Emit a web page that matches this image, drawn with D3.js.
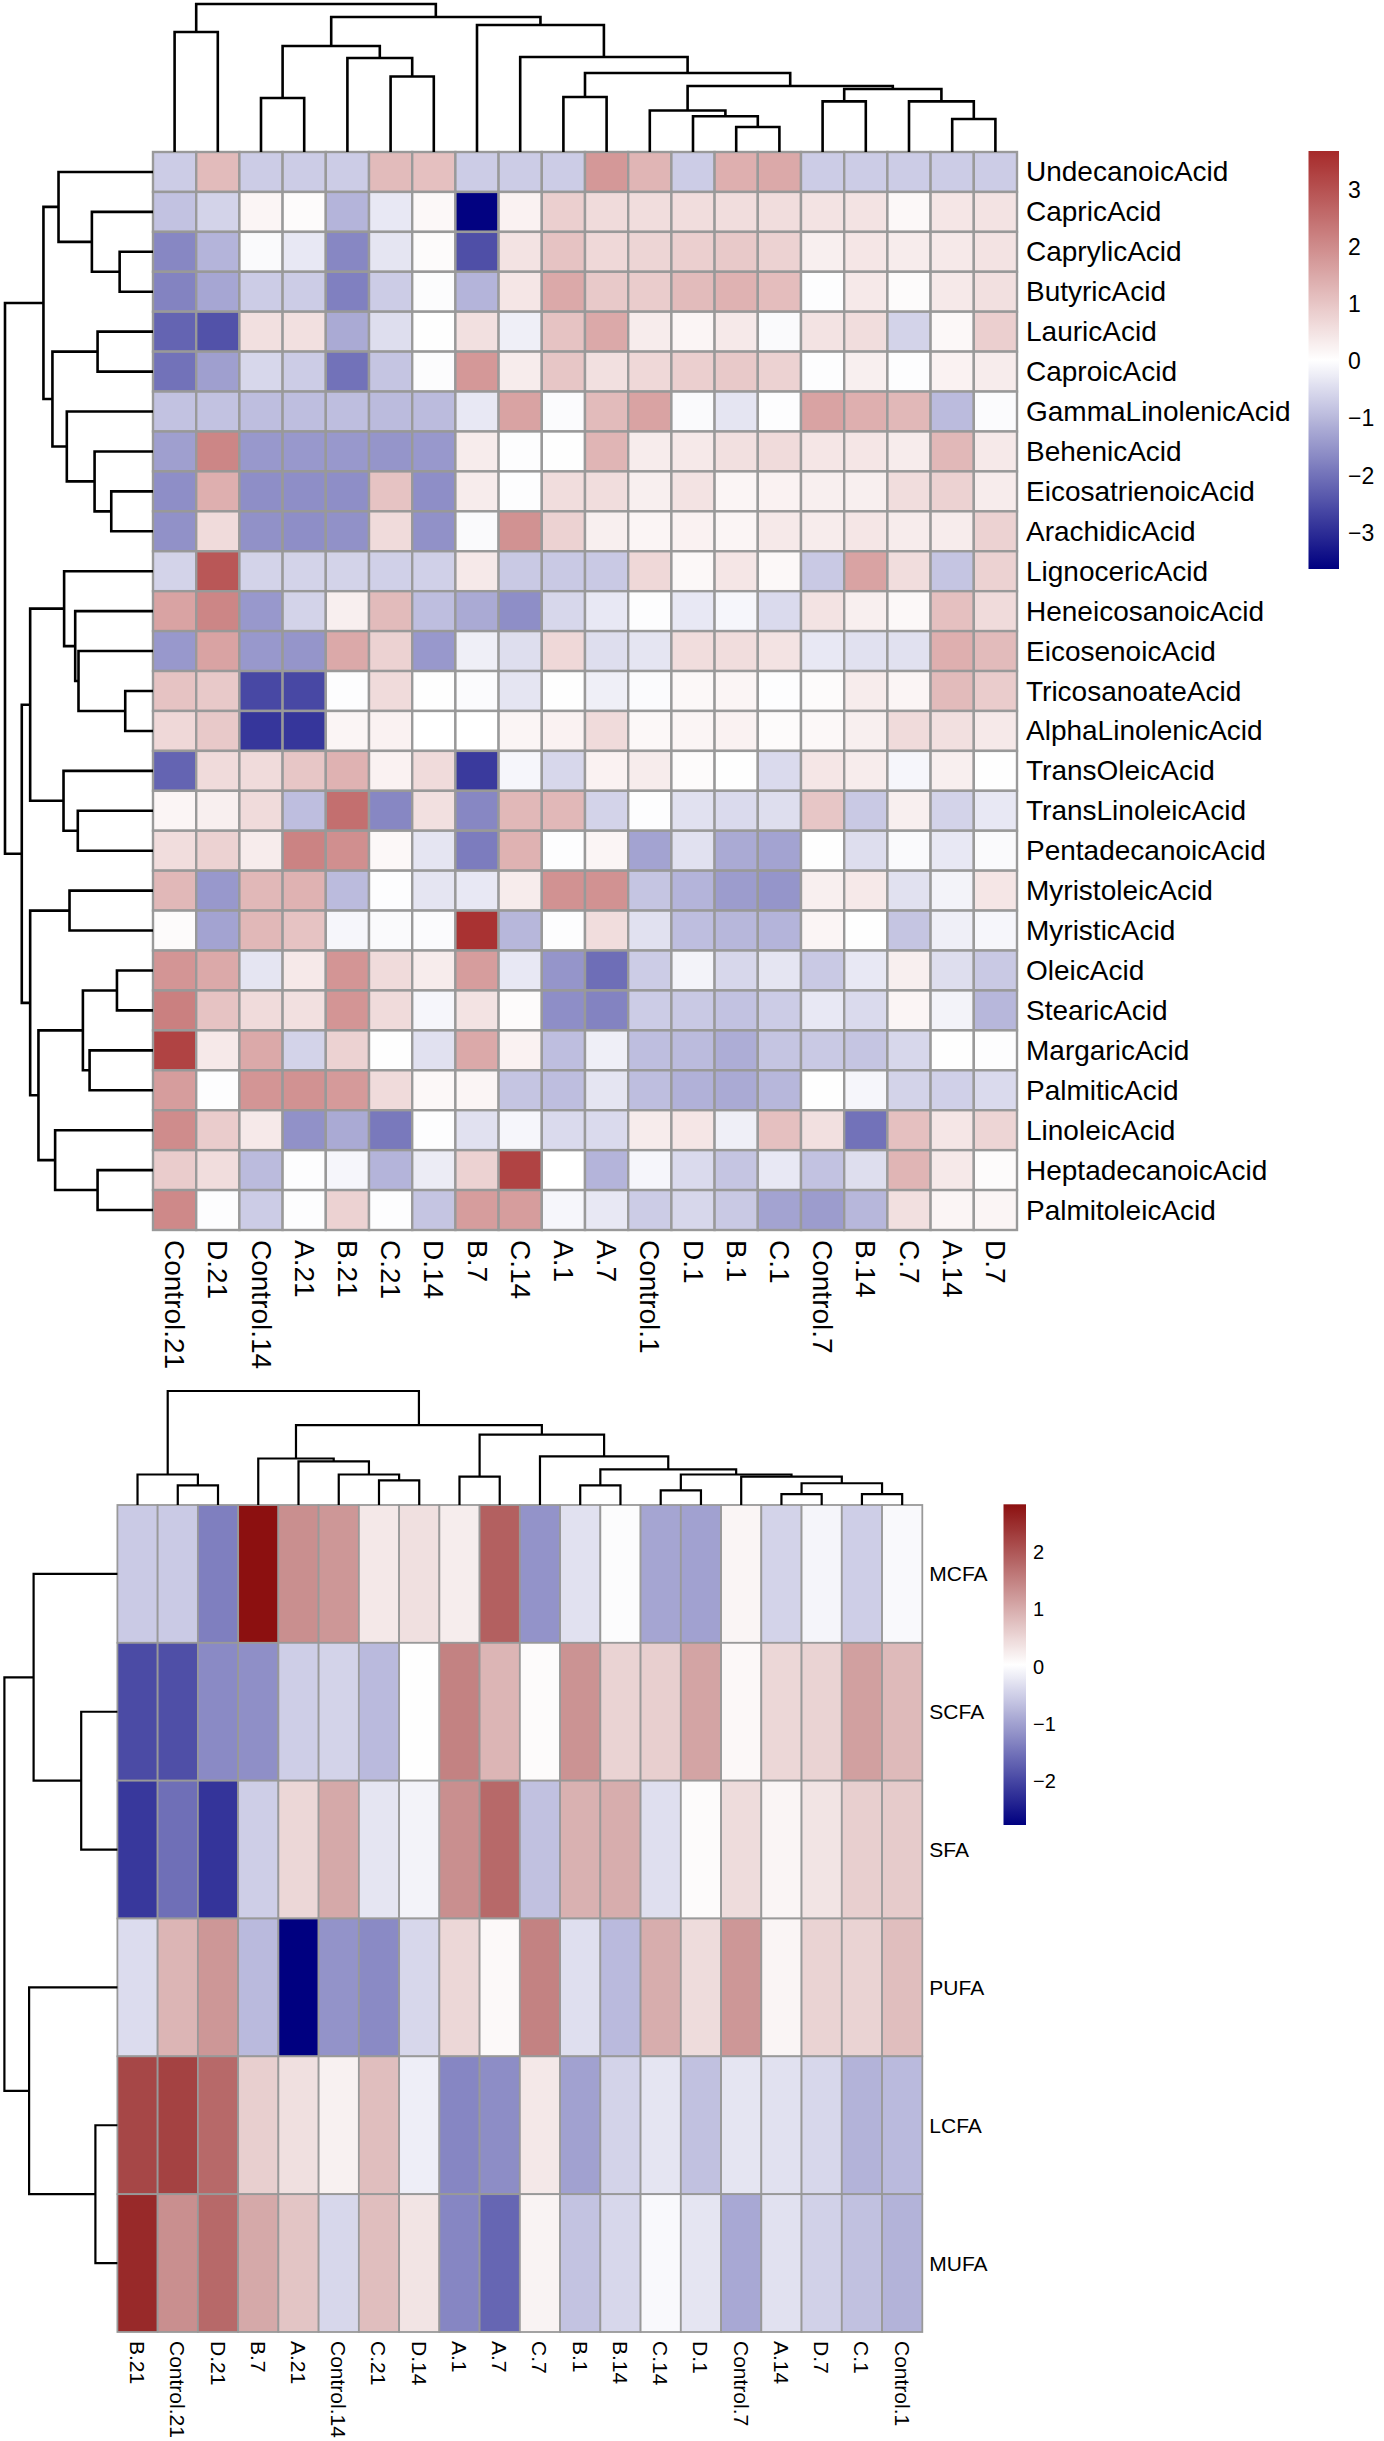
<!DOCTYPE html>
<html><head><meta charset="utf-8">
<script src="https://cdn.jsdelivr.net/npm/d3@7"></script>
<style>body{margin:0;background:#fff} text{font-family:"Liberation Sans",Arial,Helvetica,sans-serif;fill:#000}</style>
</head><body>
<svg id="chart" width="1384" height="2441"></svg>
<script>
// ---------------- DATA : fatty acids heatmap ----------------
const topCols = ["Control.21","D.21","Control.14","A.21","B.21","C.21","D.14","B.7","C.14","A.1","A.7","Control.1","D.1","B.1","C.1","Control.7","B.14","C.7","A.14","D.7"];
const topRows = ["UndecanoicAcid","CapricAcid","CaprylicAcid","ButyricAcid","LauricAcid","CaproicAcid","GammaLinolenicAcid","BehenicAcid","EicosatrienoicAcid","ArachidicAcid","LignocericAcid","HeneicosanoicAcid","EicosenoicAcid","TricosanoateAcid","AlphaLinolenicAcid","TransOleicAcid","TransLinoleicAcid","PentadecanoicAcid","MyristoleicAcid","MyristicAcid","OleicAcid","StearicAcid","MargaricAcid","PalmiticAcid","LinoleicAcid","HeptadecanoicAcid","PalmitoleicAcid"];
const topValues = [
 [-0.7,1.2,-0.7,-0.7,-0.7,1.2,1.1,-0.7,-0.7,-0.7,1.8,1.3,-0.7,1.4,1.5,-0.7,-0.7,-0.7,-0.7,-0.7],
 [-0.85,-0.6,0.2,0.1,-1.05,-0.3,0.15,-3.6,0.25,0.85,0.65,0.6,0.6,0.6,0.6,0.5,0.5,0.15,0.45,0.5],
 [-1.7,-1.05,-0.05,-0.3,-1.7,-0.35,0.1,-2.5,0.5,1.05,0.7,0.75,0.85,0.95,0.8,0.3,0.45,0.35,0.4,0.5],
 [-1.75,-1.25,-0.7,-0.7,-1.8,-0.7,-0.02,-1.05,0.45,1.5,0.95,0.9,1.2,1.35,1.15,0.0,0.4,0.1,0.4,0.55],
 [-2.2,-2.45,0.55,0.55,-1.2,-0.45,0.05,0.55,-0.2,1.05,1.5,0.35,0.2,0.4,-0.05,0.5,0.6,-0.6,0.15,0.85],
 [-2.0,-1.35,-0.55,-0.7,-2.0,-0.8,-0.02,1.8,0.35,1.0,0.55,0.7,0.85,0.95,0.8,0.0,0.3,0.0,0.25,0.35],
 [-0.85,-0.85,-0.9,-0.9,-0.9,-0.95,-0.95,-0.3,1.6,-0.03,1.2,1.6,-0.05,-0.35,0.0,1.6,1.4,1.25,-0.95,-0.03],
 [-1.35,2.1,-1.45,-1.45,-1.45,-1.5,-1.45,0.35,0.0,0.05,1.3,0.35,0.4,0.55,0.65,0.45,0.45,0.35,1.25,0.4],
 [-1.6,1.4,-1.6,-1.6,-1.6,1.05,-1.6,0.35,0.0,0.6,0.6,0.3,0.5,0.2,0.25,0.3,0.3,0.6,0.8,0.35],
 [-1.55,0.65,-1.55,-1.6,-1.55,0.65,-1.55,-0.05,1.9,0.8,0.3,0.2,0.25,0.2,0.4,0.35,0.45,0.35,0.35,0.8],
 [-0.6,2.9,-0.6,-0.6,-0.6,-0.65,-0.65,0.4,-0.75,-0.75,-0.75,0.7,0.15,0.45,0.15,-0.75,1.6,0.6,-0.8,0.8],
 [1.6,2.1,-1.45,-0.6,0.3,1.2,-0.9,-1.2,-1.6,-0.55,-0.3,0.0,-0.3,-0.1,-0.5,0.5,0.3,0.15,1.1,0.65],
 [-1.45,1.6,-1.45,-1.5,1.5,0.8,-1.45,-0.2,-0.45,0.7,-0.45,-0.35,0.6,0.6,0.5,-0.3,-0.4,-0.4,1.4,1.2],
 [1.05,0.95,-2.6,-2.6,0.0,0.65,0.05,-0.03,-0.35,0.05,-0.2,-0.03,0.15,0.2,0.0,0.1,0.35,0.2,1.2,0.9],
 [0.7,0.95,-2.85,-2.85,0.2,0.25,0.02,0.02,0.2,0.25,0.65,0.15,0.2,0.25,0.1,0.15,0.3,0.65,0.55,0.4],
 [-2.2,0.65,0.65,1.0,1.35,0.25,0.65,-2.8,-0.1,-0.55,0.25,0.35,0.1,0.05,-0.5,0.45,0.35,-0.1,0.3,0.05],
 [0.2,0.3,0.65,-0.9,2.5,-1.7,0.55,-1.7,1.25,1.25,-0.6,0.0,-0.4,-0.5,-0.45,1.0,-0.75,0.3,-0.6,-0.3],
 [0.6,0.8,0.35,2.15,1.95,0.15,-0.35,-1.85,1.35,0.0,0.2,-1.3,-0.4,-1.2,-1.3,0.05,-0.45,-0.05,-0.3,-0.05],
 [1.25,-1.45,1.25,1.35,-0.95,0.0,-0.35,-0.3,0.35,1.9,1.9,-0.8,-1.05,-1.4,-1.5,0.3,0.4,-0.4,-0.15,0.45],
 [0.1,-1.3,1.25,1.05,-0.1,-0.05,-0.03,3.55,-1.0,0.0,0.6,-0.4,-0.9,-1.0,-1.05,0.2,0.05,-0.8,-0.2,-0.1],
 [1.85,1.5,-0.35,0.4,1.85,0.65,0.35,1.7,-0.3,-1.5,-2.05,-0.7,-0.15,-0.55,-0.35,-0.75,-0.3,0.3,-0.45,-0.75],
 [2.2,1.05,0.65,0.55,1.85,0.65,-0.1,0.5,0.1,-1.6,-1.75,-0.7,-0.75,-0.85,-0.7,-0.3,-0.5,0.2,-0.15,-1.0],
 [3.25,0.4,1.5,-0.6,0.8,0.05,-0.4,1.5,0.25,-0.9,-0.2,-0.9,-0.95,-1.15,-0.8,-0.75,-0.8,-0.55,0.05,0.0],
 [1.7,0.0,1.85,1.9,1.75,0.65,0.15,0.2,-0.8,-0.9,-0.35,-0.9,-1.1,-1.2,-1.0,0.05,-0.1,-0.6,-0.65,-0.5],
 [2.0,0.9,0.4,-1.55,-1.2,-1.9,0.0,-0.4,-0.1,-0.5,-0.5,0.35,0.45,-0.2,1.1,0.55,-2.0,1.1,0.45,0.75],
 [0.9,0.6,-0.95,0.0,-0.1,-1.05,-0.25,0.8,3.25,0.02,-1.05,-0.1,-0.5,-0.8,-0.3,-0.85,-0.45,1.3,0.4,0.1],
 [2.05,0.0,-0.7,0.0,0.8,0.0,-0.8,1.7,1.7,-0.1,-0.3,-0.7,-0.55,-0.75,-1.3,-1.4,-1.0,0.55,0.2,0.2]
];
// dendrograms: [mergeHeight, left, right]
const topColTree = [148,
  [120,"Control.21","D.21"],
  [135,
    [106,[54,"Control.14","A.21"],[94,"B.21",[75.5,"C.21","D.14"]]],
    [127,"B.7",[95,"C.14",[79,[55,"A.1","A.7"],
      [66,[41.5,"Control.1",[35.7,"D.1",[25,"B.1","C.1"]]],
          [63,[50.6,"Control.7","B.14"],[50.6,"C.7",[33,"A.14","D.7"]]]]]]]]];
const topRowTree = [148.2,
  [109.7,
    [94.6,"UndecanoicAcid",[61.2,"CapricAcid",[33.4,"CaprylicAcid","ButyricAcid"]]],
    [100.7,[55.5,"LauricAcid","CaproicAcid"],[86.3,"GammaLinolenicAcid",[58.5,"BehenicAcid",[41.8,"EicosatrienoicAcid","ArachidicAcid"]]]]],
  [131.4,
    [123,[89,"LignocericAcid",[77.9,"HeneicosanoicAcid",[74.6,"EicosenoicAcid",[27.8,"TricosanoateAcid","AlphaLinolenicAcid"]]]],
         [89.6,"TransOleicAcid",[75.3,"TransLinoleicAcid","PentadecanoicAcid"]]],
    [123,[83.6,"MyristoleicAcid","MyristicAcid"],
         [114.7,[70.2,[36.1,"OleicAcid","StearicAcid"],[63.5,"MargaricAcid","PalmiticAcid"]],
                [98,"LinoleicAcid",[55.5,"HeptadecanoicAcid","PalmitoleicAcid"]]]]]];
const topLegendRange = [-3.63, 3.68];
const topLegendTicks = [-3,-2,-1,0,1,2,3];

// ---------------- DATA : fatty acid classes heatmap ----------------
const botCols = ["B.21","Control.21","D.21","B.7","A.21","Control.14","C.21","D.14","A.1","A.7","C.7","B.1","B.14","C.14","D.1","Control.7","A.14","D.7","C.1","Control.1"];
const botRows = ["MCFA","SCFA","SFA","PUFA","LCFA","MUFA"];
const botValues = [
 [-0.55,-0.55,-1.37,2.84,1.35,1.25,0.3,0.4,0.25,1.9,-1.15,-0.3,0.0,-0.95,-1.0,0.15,-0.45,-0.08,-0.5,-0.03],
 [-1.95,-1.9,-1.25,-1.2,-0.5,-0.45,-0.72,0.05,1.5,0.9,0.08,1.3,0.55,0.6,1.1,0.12,0.5,0.55,1.15,0.85],
 [-2.15,-1.55,-2.2,-0.5,0.5,1.05,-0.25,-0.1,1.35,1.8,-0.65,0.95,1.0,-0.32,0.08,0.45,0.15,0.35,0.6,0.65],
 [-0.35,0.9,1.25,-0.72,-2.77,-1.15,-1.25,-0.4,0.5,0.1,1.5,-0.32,-0.72,1.0,0.45,1.25,0.15,0.55,0.55,0.8],
 [2.2,2.25,1.8,0.6,0.4,0.2,0.8,-0.15,-1.3,-1.22,0.3,-1.0,-0.45,-0.25,-0.65,-0.25,-0.3,-0.4,-0.8,-0.72],
 [2.55,1.35,1.8,1.05,0.72,-0.4,0.8,0.35,-1.3,-1.65,0.18,-0.62,-0.4,-0.03,-0.25,-0.92,-0.3,-0.47,-0.65,-0.8]
];
const botColTree = [114.3,
  [30.6,"B.21",[19.7,"Control.21","D.21"]],
  [80,
    [46.6,"B.7",[43.7,"A.21",[30.6,"Control.14",[24.7,"C.21","D.14"]]]],
    [70.6,[28.4,"A.1","A.7"],
      [48.8,"C.7",[35.7,[19.7,"B.1","B.14"],
        [30.6,[14.6,"C.14","D.1"],[28.4,"Control.7",[21.8,[10.9,"A.14","D.7"],[10.9,"C.1","Control.1"]]]]]]]]];
const botRowTree = [113,[83.8,"MCFA",[36.2,"SCFA","SFA"]],[88.3,"PUFA",[22,"LCFA","MUFA"]]];
const botLegendRange = [-2.77, 2.84];
const botLegendTicks = [-2,-1,0,1,2];

// ---------------- DRAWING ----------------
const svg = d3.select("#chart");
svg.append("rect").attr("width",1384).attr("height",2441).attr("fill","#fff");

function drawHeatmap(id, rows, cols, values, colTree, rowTree, lRange, lTicks, L) {
  const g = svg.append("g");
  const x = d3.scaleBand().domain(cols).range([L.x0, L.x1]);
  const y = d3.scaleBand().domain(rows).range([L.y0, L.y1]);
  const [lo, hi] = lRange;
  const color = d3.scaleLinear().domain([lo, (lo+hi)/2, hi])
    .range(["#000080", "#ffffff", L.red]).interpolate(d3.interpolateRgb).clamp(true);

  const cells = [];
  rows.forEach((r, i) => cols.forEach((c, j) => cells.push({r, c, v: values[i][j]})));
  g.selectAll("rect.cell").data(cells).join("rect").attr("class","cell")
    .attr("x", d => x(d.c)).attr("y", d => y(d.r))
    .attr("width", x.bandwidth()).attr("height", y.bandwidth())
    .attr("fill", d => color(d.v)).attr("stroke", "#999999").attr("stroke-width", L.cellStroke);

  // dendrograms
  function layout(node, band, segs) {
    if (typeof node === "string") return {p: band(node) + band.bandwidth()/2, h: 0};
    const [h, l, r] = node;
    const A = layout(l, band, segs), B = layout(r, band, segs);
    segs.push({a: A, b: B, h});
    return {p: (A.p + B.p)/2, h};
  }
  const cSegs = []; layout(colTree, x, cSegs);
  const hc = d3.scaleLinear().domain([0, colTree[0]]).range([L.y0, L.colTreeTop]);
  g.selectAll("path.ct").data(cSegs).join("path").attr("class","ct")
    .attr("d", s => `M${s.a.p},${hc(s.a.h)}V${hc(s.h)}H${s.b.p}V${hc(s.b.h)}`)
    .attr("fill","none").attr("stroke","#000").attr("stroke-width", L.treeStroke);
  const rSegs = []; layout(rowTree, y, rSegs);
  const hr = d3.scaleLinear().domain([0, rowTree[0]]).range([L.x0, L.rowTreeLeft]);
  g.selectAll("path.rt").data(rSegs).join("path").attr("class","rt")
    .attr("d", s => `M${hr(s.a.h)},${s.a.p}H${hr(s.h)}V${s.b.p}H${hr(s.b.h)}`)
    .attr("fill","none").attr("stroke","#000").attr("stroke-width", L.treeStroke);

  // labels
  g.selectAll("text.rl").data(rows).join("text").attr("class","rl")
    .attr("x", L.x1 + L.rowPad).attr("y", d => y(d) + y.bandwidth()/2)
    .attr("dominant-baseline","central").style("font-size", L.font + "px").text(d => d);
  g.selectAll("text.cl").data(cols).join("text").attr("class","cl")
    .attr("transform", d => `translate(${x(d) + x.bandwidth()/2},${L.y1 + L.colPad}) rotate(90)`)
    .attr("dominant-baseline","central").attr("text-anchor","start")
    .style("font-size", L.font + "px").text(d => d);

  // legend
  const grad = svg.append("defs").append("linearGradient").attr("id", id + "grad")
    .attr("x1",0).attr("y1",1).attr("x2",0).attr("y2",0);
  d3.range(0, 1.0001, 0.02).forEach(t => grad.append("stop")
    .attr("offset", t).attr("stop-color", color(lo + t*(hi-lo))));
  g.append("rect").attr("x", L.lx0).attr("y", L.ly0).attr("width", L.lx1 - L.lx0)
    .attr("height", L.ly1 - L.ly0).attr("fill", `url(#${id}grad)`);
  const ls = d3.scaleLinear().domain(lRange).range([L.ly1, L.ly0]);
  const ax = g.append("g").attr("transform", `translate(${L.lx1},0)`)
    .call(d3.axisRight(ls).tickValues(lTicks).tickSize(0).tickPadding(L.lPad).tickFormat(d3.format("d")));
  ax.select(".domain").remove();
  ax.selectAll("text").style("font-size", L.lFont + "px")
    .style("font-family", '"Liberation Sans",Arial,sans-serif').attr("fill","#000");
}

drawHeatmap("top", topRows, topCols, topValues, topColTree, topRowTree, topLegendRange, topLegendTicks, {
  x0: 153, x1: 1017, y0: 152, y1: 1230, colTreeTop: 4, rowTreeLeft: 5,
  red: "#A62A2A", cellStroke: 2.4, treeStroke: 2.6, font: 28, rowPad: 9, colPad: 10,
  lx0: 1308.5, lx1: 1339, ly0: 151, ly1: 569, lPad: 9, lFont: 23
});
drawHeatmap("bot", botRows, botCols, botValues, botColTree, botRowTree, botLegendRange, botLegendTicks, {
  x0: 117.4, x1: 922.3, y0: 1505, y1: 2332, colTreeTop: 1391, rowTreeLeft: 4.4,
  red: "#8C1010", cellStroke: 1.8, treeStroke: 2.2, font: 21, rowPad: 7, colPad: 9,
  lx0: 1003.5, lx1: 1026, ly0: 1504.3, ly1: 1825, lPad: 7, lFont: 20
});
</script>
</body></html>
